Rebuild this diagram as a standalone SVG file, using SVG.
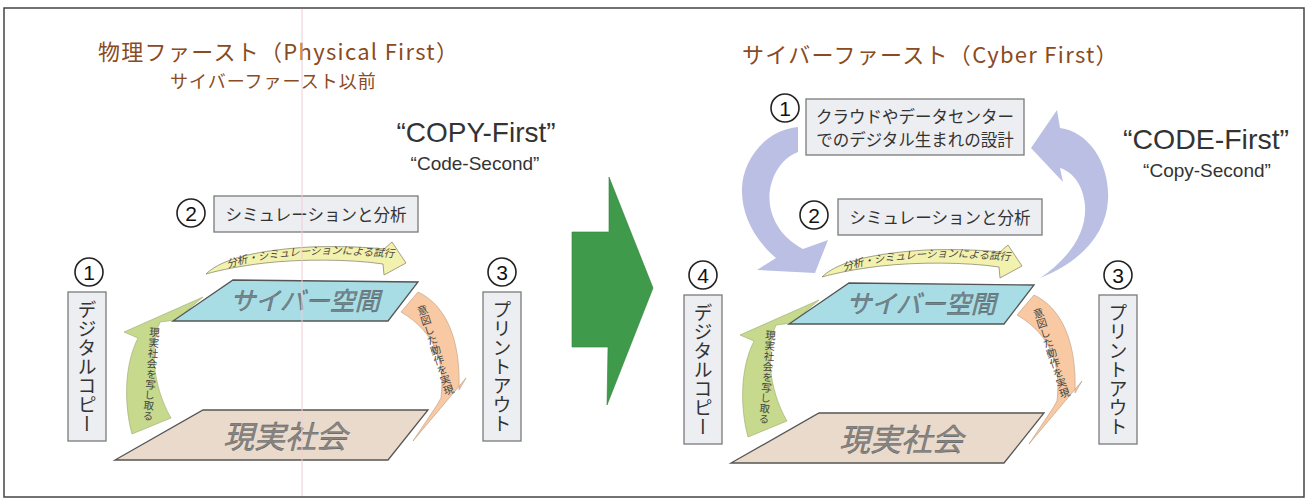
<svg xmlns="http://www.w3.org/2000/svg" width="1309" height="501" viewBox="0 0 1309 501">
<style>
.jp{font-family:'Noto Sans CJK JP',sans-serif}
.lat{font-family:'Liberation Sans',Arial,sans-serif}
.title{font-size:22px;fill:#8a4a22;letter-spacing:1.3px}
.sub{font-size:18px;fill:#8a4a22;letter-spacing:1px}
.box{fill:#eceef1;stroke:#7a7a7a;stroke-width:1.3}
.nc{fill:#fff;stroke:#222;stroke-width:1.6}
.nt{font-family:'Liberation Sans',Arial,sans-serif;font-size:21px;fill:#111;text-anchor:middle;dominant-baseline:central}
.bt{font-size:16.5px;fill:#333;text-anchor:middle;dominant-baseline:central}
.vt{writing-mode:vertical-rl;font-size:19px;fill:#333;text-anchor:middle}
.sm{font-size:10.5px;fill:#444}
.svt{writing-mode:vertical-rl;font-size:10.5px;fill:#444}
.cyan{fill:#a9dde5;stroke:#555;stroke-width:1.3}
.real{fill:#e9dacb;stroke:#555;stroke-width:1.3}
.yel{fill:#f3f1ae;stroke:#8a8a70;stroke-width:0.8}
.grn{fill:#c6d98c;stroke:#9aaa70;stroke-width:0.6}
.org{fill:#f8c9a2;stroke:#b89a80;stroke-width:0.6}
.lav{fill:#bbbfe3}
.pt{font-style:italic;text-anchor:middle;stroke:#4a565c;stroke-width:0.35}
.q{fill:#333;text-anchor:middle}
</style>

<rect id="frame" x="4" y="8" width="1300" height="489" fill="#fff" stroke="#444" stroke-width="1.5"/>

<g id="connectors">
  <polygon id="big-arrow" points="572,232 609,232 609,177 653,288 607,405 608,347 572,347" fill="#3f9b4b" stroke="#2f7f3a" stroke-width="0.6"/>
  <g id="L-arrows">
    <path class="yel" d="M206,274 C222,258 260,250 310,247 C340,246 365,247 384,249 L392,242 L406,263 L384,275 L383,264 C350,259 300,259 265,263 C240,266 220,270 206,274 Z"/>
    <path class="grn" d="M132,434 C124,405 124,365 138,338 L124,332 L203,297 L176,320 L160,322 C150,345 152,385 171,418 Z"/>
    <path class="org" d="M418,292 C446,305 461,340 459,390 L466,378 L413,441 L437,405 L441,398 C445,365 437,333 401,312 Z"/>
  </g>
  <g id="R-arrows" transform="translate(616,3)">
    <path class="yel" d="M206,274 C222,258 260,250 310,247 C340,246 365,247 384,249 L392,242 L406,263 L384,275 L383,264 C350,259 300,259 265,263 C240,266 220,270 206,274 Z"/>
    <path class="grn" d="M132,434 C124,405 124,365 138,338 L124,332 L203,297 L176,320 L160,322 C150,345 152,385 171,418 Z"/>
    <path class="org" d="M418,292 C446,305 461,340 459,390 L466,378 L413,441 L437,405 L441,398 C445,365 437,333 401,312 Z"/>
  </g>
  <path class="lav" d="M798,127 L798,152 C777,160 767,185 770,205 C773,225 786,240 803,249 L828,240 L815,273 L757,270 L776,258 C755,240 741,215 742,188 C743,160 765,130 798,127 Z"/>
  <path class="lav" d="M1040,278 C1070,258 1087,232 1085,205 C1083,185 1073,172 1060,168 L1063,182 L1031,148 L1057,110 L1060,128 C1090,132 1110,165 1108,200 C1106,235 1080,262 1040,278 Z"/>
  <defs>
    <path id="ytp" d="M228,268 C260,258 300,254 340,254 L402,258"/>
  </defs>
  <text class="jp sm" font-style="italic"><textPath href="#ytp">分析・シミュレーションによる試行</textPath></text>
  <text class="jp sm" font-style="italic" transform="translate(616,3)"><textPath href="#ytp">分析・シミュレーションによる試行</textPath></text>
  <text class="jp svt" x="155" y="327" transform="rotate(4.5 155 327)">現実社会を写し取る</text>
  <text class="jp svt" x="771" y="330" transform="rotate(4.5 771 330)">現実社会を写し取る</text>
  <text class="jp svt" x="421" y="305" transform="rotate(-18 421 305)">意図した動作を実現</text>
  <text class="jp svt" x="1037" y="308" transform="rotate(-18 1037 308)">意図した動作を実現</text>
</g>

<g id="title-left">
  <text class="jp title" x="98" y="60">物理ファースト（Physical First）</text>
  <text class="jp sub" x="170" y="88">サイバーファースト以前</text>
</g>
<g id="title-right">
  <text class="jp title" x="742" y="63">サイバーファースト（Cyber First）</text>
</g>
<g id="copy-first">
  <text class="lat q" x="476" y="142" font-size="28">“COPY-First”</text>
  <text class="lat q" x="475" y="170" font-size="19">“Code-Second”</text>
</g>
<g id="code-first">
  <text class="lat q" x="1206" y="149" font-size="28.5">“CODE-First”</text>
  <text class="lat q" x="1207" y="177" font-size="19">“Copy-Second”</text>
</g>

<g id="L-step1">
  <circle class="nc" cx="89" cy="272" r="14"/><text class="nt" x="89" y="272">1</text>
  <rect class="box" x="68" y="292" width="38" height="149"/>
  <text class="jp vt" x="87" y="367">デジタルコピー</text>
</g>
<g id="L-step2">
  <circle class="nc" cx="191" cy="213" r="14"/><text class="nt" x="191" y="213">2</text>
  <rect class="box" x="214" y="196" width="204" height="36"/>
  <text class="jp bt" x="316" y="214">シミュレーションと分析</text>
</g>
<g id="L-step3">
  <circle class="nc" cx="502" cy="272" r="14"/><text class="nt" x="502" y="272">3</text>
  <rect class="box" x="483" y="292" width="38" height="149"/>
  <text class="jp vt" x="502" y="367">プリントアウト</text>
</g>
<g id="L-cyber">
  <polygon class="cyan" points="233,280 418,282 388,321 173,321"/>
  <text class="jp pt" x="305" y="310" font-size="25" fill="#76868c">サイバー空間</text>
</g>
<g id="L-real">
  <polygon class="real" points="203,410 428,410 388,460 115,460"/>
  <text class="jp pt" x="285" y="448" font-size="31" fill="#8a8480">現実社会</text>
</g>

<g id="R-step1">
  <circle class="nc" cx="785" cy="108" r="14"/><text class="nt" x="785" y="108">1</text>
  <rect class="box" x="806" y="99" width="218" height="56"/>
  <text class="jp bt" x="915" y="116">クラウドやデータセンター</text>
  <text class="jp bt" x="915" y="139">でのデジタル生まれの設計</text>
</g>
<g id="R-step2">
  <circle class="nc" cx="814" cy="215" r="14"/><text class="nt" x="814" y="215">2</text>
  <rect class="box" x="838" y="199" width="204" height="36"/>
  <text class="jp bt" x="940" y="217">シミュレーションと分析</text>
</g>
<g id="R-step3">
  <circle class="nc" cx="1118" cy="275" r="14"/><text class="nt" x="1118" y="275">3</text>
  <rect class="box" x="1099" y="295" width="38" height="149"/>
  <text class="jp vt" x="1118" y="370">プリントアウト</text>
</g>
<g id="R-step4">
  <circle class="nc" cx="703" cy="275" r="14"/><text class="nt" x="703" y="275">4</text>
  <rect class="box" x="684" y="295" width="38" height="149"/>
  <text class="jp vt" x="703" y="370">デジタルコピー</text>
</g>
<g id="R-cyber">
  <polygon class="cyan" points="849,283 1034,285 1004,324 789,324"/>
  <text class="jp pt" x="921" y="313" font-size="25" fill="#76868c">サイバー空間</text>
</g>
<g id="R-real">
  <polygon class="real" points="819,413 1044,413 1004,463 731,463"/>
  <text class="jp pt" x="901" y="451" font-size="31" fill="#8a8480">現実社会</text>
</g>

<line id="scan-line" x1="302" y1="9" x2="302" y2="496" stroke="#f2ccd6" stroke-width="1"/>
</svg>
